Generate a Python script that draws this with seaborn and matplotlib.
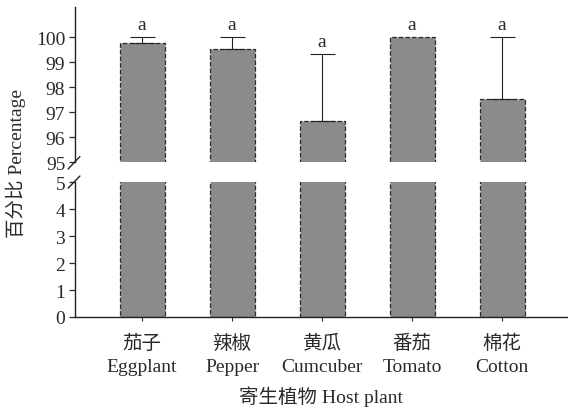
import numpy as np
import matplotlib
matplotlib.use('Agg')
import matplotlib.pyplot as plt
import seaborn as sns

# Data
HOSTS_CN = ['茄子', '辣椒', '黄瓜', '番茄', '棉花']
HOSTS_EN = ['Eggplant', 'Pepper', 'Cumcuber', 'Tomato', 'Cotton']
MEANS = [99.76, 99.52, 96.64, 100.0, 97.54]
ERR_UP = [0.24, 0.48, 2.68, 0.0, 2.46]
LETTERS = ['a', 'a', 'a', 'a', 'a']
TOP_TICKS = [95, 96, 97, 98, 99, 100]
BOTTOM_TICKS = [0, 1, 2, 3, 4, 5]

BAR_COLOR = '#8b8b8b'
EDGE_COLOR = '#2a2a2a'
TXT = '#2a2a2a'
FS = 14


def draw_bars(ax):
    sns.barplot(x=list(range(len(MEANS))), y=MEANS, ax=ax, color=BAR_COLOR,
                width=0.5, edgecolor=EDGE_COLOR, linewidth=0.9,
                linestyle='--', saturation=1, native_scale=True)
    idx = [i for i, e in enumerate(ERR_UP) if e > 0]
    ax.errorbar(idx, [MEANS[i] for i in idx],
                yerr=[[0] * len(idx), [ERR_UP[i] for i in idx]],
                fmt='none', ecolor='#222222', elinewidth=0.8, capsize=9, capthick=0.8)


def plot_chart():
    sns.set_style('ticks')
    plt.rcParams['font.family'] = ['Liberation Serif', 'Noto Sans CJK SC']
    plt.rcParams['axes.unicode_minus'] = False

    fig = plt.figure(figsize=(5.68, 4.10), dpi=100)
    ax_top = fig.add_axes([0.132, 0.6024, 0.866, 0.378])
    ax_bot = fig.add_axes([0.132, 0.2244, 0.866, 0.329])

    draw_bars(ax_top)
    draw_bars(ax_bot)

    for ax in (ax_top, ax_bot):
        ax.set_xlim(-0.745, 4.72)
        ax.spines['top'].set_visible(False)
        ax.spines['right'].set_visible(False)
        ax.spines['left'].set_linewidth(1.0)
        ax.spines['left'].set_color('#222222')
        ax.tick_params(axis='y', direction='out', length=4, width=0.9,
                       labelsize=FS, pad=3, colors=TXT)
        ax.set_xlabel('')
        ax.set_ylabel('')

    # top panel
    ax_top.set_ylim(95, 101.2)
    ax_top.set_yticks(TOP_TICKS)
    ax_top.spines['bottom'].set_visible(False)
    ax_top.set_xticks([])
    for i, (m, e, lab) in enumerate(zip(MEANS, ERR_UP, LETTERS)):
        ax_top.annotate(lab, (i, m + e), xytext=(0, 3), textcoords='offset points',
                        ha='center', va='bottom', fontsize=FS, color=TXT)

    # bottom panel
    ax_bot.set_ylim(0, 5)
    ax_bot.set_yticks(BOTTOM_TICKS)
    ax_bot.spines['bottom'].set_linewidth(1.0)
    ax_bot.spines['bottom'].set_color('#222222')
    ax_bot.set_xticks(range(len(HOSTS_EN)))
    ax_bot.set_xticklabels([f'{c}\n{e}' for c, e in zip(HOSTS_CN, HOSTS_EN)],
                           fontsize=FS, linespacing=1.5)
    ax_bot.tick_params(axis='x', direction='out', length=3, width=0.8, pad=9,
                       colors=TXT)
    ax_bot.set_xlabel('寄生植物 Host plant', fontsize=FS, labelpad=7, color=TXT)

    # break marks on the y axis
    kw = dict(color='#222222', lw=1.0, clip_on=False)
    ax_top.plot([-0.014, 0.010], [-0.045, 0.035], transform=ax_top.transAxes, **kw)
    ax_bot.plot([-0.014, 0.010], [0.955, 1.045], transform=ax_bot.transAxes, **kw)

    fig.text(0.028, 0.6, '百分比 Percentage', rotation=90, ha='center', va='center',
             fontsize=FS, color=TXT)

    fig.savefig('out.png', dpi=100)
    plt.close(fig)


if __name__ == '__main__':
    plot_chart()
